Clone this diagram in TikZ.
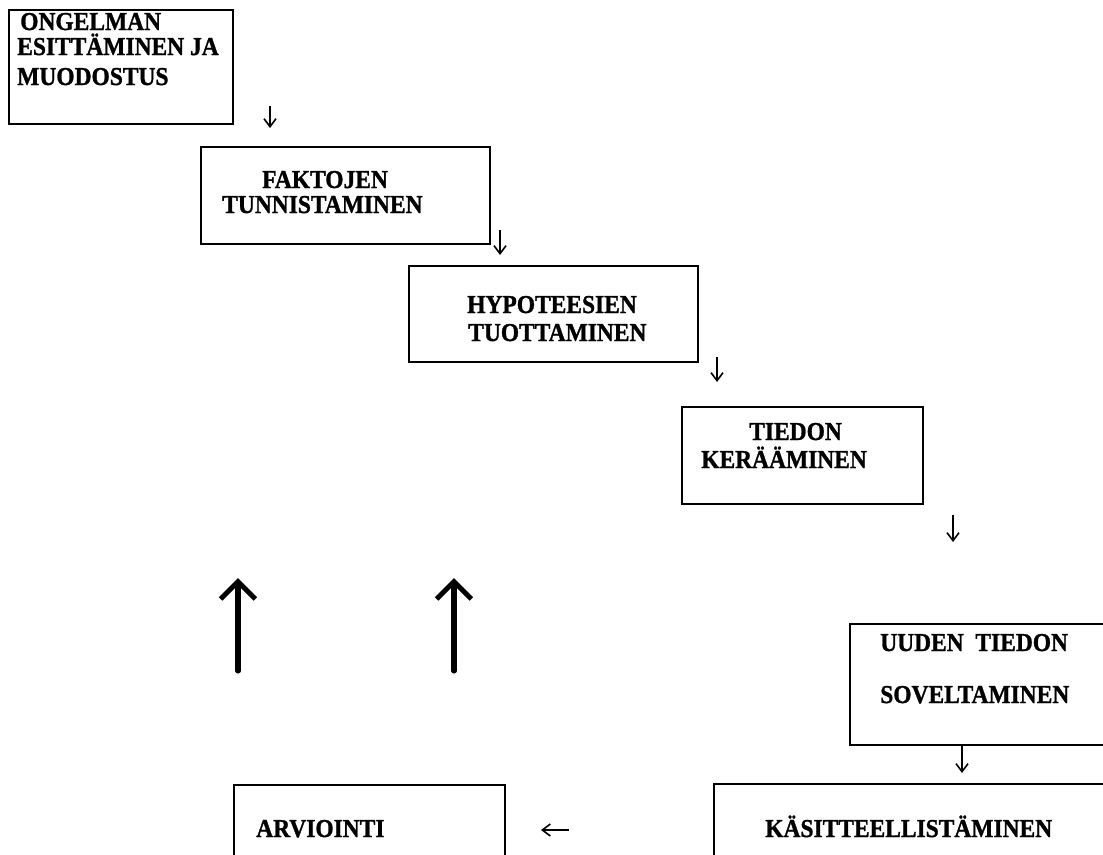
\documentclass[tikz,border=0pt]{standalone}
\usepackage{fontspec}
\setmainfont{Liberation Serif}[BoldFeatures={FakeBold=1.2}]
\usetikzlibrary{arrows.meta}
\newcommand{\tallt}[1]{\scalebox{1}[1.1]{#1}}
\begin{document}
\begin{tikzpicture}[x=0.75pt,y=-0.75pt,
  box/.style={draw, line width=1.2pt, anchor=north west, inner sep=0pt},
  lbl/.style={anchor=base west, inner sep=0pt, font=\bfseries\fontsize{17.6}{20}\selectfont},
  thinarrow/.style={line width=1.2pt, -{Straight Barb[length=6pt,width=9pt]}},
  bigarrow/.style={line width=3.8pt, line cap=round, -{Straight Barb[length=13pt,width=26pt]}}]
\useasboundingbox (0,0) rectangle (1103,854);
\clip (0,0) rectangle (1103,854);
% boxes
\node[box, minimum width=168pt, minimum height=85.5pt] (b1) at (8,9) {};
\node[box, minimum width=216.75pt, minimum height=72.75pt] (b2) at (200,146) {};
\node[box, minimum width=216.75pt, minimum height=72pt] (b3) at (408,265) {};
\node[box, minimum width=180.75pt, minimum height=72.75pt] (b4) at (681,406) {};
\node[box, minimum width=199.5pt, minimum height=90.75pt] (b5) at (849,623) {};
\node[box, minimum width=203.25pt, minimum height=67.5pt] (b6) at (233,784) {};
\node[box, minimum width=300pt, minimum height=67.5pt] (b7) at (713,783) {};
% labels
\node[lbl] (t1a) at (20,30) {\tallt{ONGELMAN}};
\node[lbl] (t1b) at (17,55) {\tallt{ESITTÄMINEN JA}};
\node[lbl] (t1c) at (17,85) {\tallt{MUODOSTUS}};
\node[lbl] (t2a) at (262,188) {\tallt{FAKTOJEN}};
\node[lbl] (t2b) at (222,213) {\tallt{TUNNISTAMINEN}};
\node[lbl] (t3a) at (467,313) {\tallt{HYPOTEESIEN}};
\node[lbl] (t3b) at (468,341) {\tallt{TUOTTAMINEN}};
\node[lbl] (t4a) at (749,440) {\tallt{TIEDON}};
\node[lbl] (t4b) at (701,468) {\tallt{KERÄÄMINEN}};
\node[lbl] (t5a) at (880,651) {\tallt{UUDEN\ \ TIEDON}};
\node[lbl] (t5b) at (880,703) {\tallt{SOVELTAMINEN}};
\node[lbl] (t6) at (256,837) {\tallt{ARVIOINTI}};
\node[lbl] (t7) at (765,837) {\tallt{KÄSITTEELLISTÄMINEN}};
% arrow end points
\coordinate (a1s) at (270,106); \coordinate (a1e) at (270,128);
\coordinate (a2s) at (500,230); \coordinate (a2e) at (500,255);
\coordinate (a3s) at (717,357); \coordinate (a3e) at (717,382);
\coordinate (a4s) at (953,515); \coordinate (a4e) at (953,542);
\coordinate (a5s) at (962,744); \coordinate (a5e) at (962,773);
\coordinate (a6s) at (569,830); \coordinate (a6e) at (541,830);
\coordinate (u1s) at (238,671); \coordinate (u1e) at (238,578);
\coordinate (u2s) at (454,671); \coordinate (u2e) at (454,578);
% arrows
\draw[thinarrow] (a1s) -- (a1e);
\draw[thinarrow] (a2s) -- (a2e);
\draw[thinarrow] (a3s) -- (a3e);
\draw[thinarrow] (a4s) -- (a4e);
\draw[thinarrow] (a5s) -- (a5e);
\draw[thinarrow] (a6s) -- (a6e);
\draw[bigarrow] (u1s) -- (u1e);
\draw[bigarrow] (u2s) -- (u2e);
\end{tikzpicture}
\end{document}
